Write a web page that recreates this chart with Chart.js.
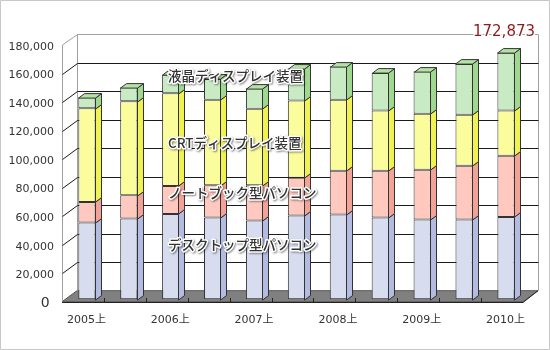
<!DOCTYPE html>
<html>
<head>
<meta charset="utf-8">
<script src="https://cdn.jsdelivr.net/npm/chart.js@4/dist/chart.umd.min.js"></script>
<style>
    body { margin: 0; background: #fff; }
    canvas { display: block; }
</style>
</head>
<body>
<canvas id="chart" width="550" height="350"></canvas>
<script>
//#region Data

const categories = ["2005上", "2005下", "2006上", "2006下", "2007上", "2007下",
    "2008上", "2008下", "2009上", "2009下", "2010上"];
const shownLabels = ["2005上", "2006上", "2007上", "2008上", "2009上", "2010上"];
const seriesNames = ["デスクトップ型パソコン", "ノートブック型パソコン", "CRTディスプレイ装置", "液晶ディスプレイ装置"];

const desktop = [53850, 56650, 59900, 57350, 55250, 58750, 59450, 57350, 55950, 55950, 57750];
const notebook = [14400, 16300, 19550, 22550, 24650, 26550, 30750, 32850, 34950, 37750, 42950];
const crt = [65750, 65950, 65050, 60000, 53700, 54100, 49700, 42200, 39200, 35700, 31700];
const lcd = [7700, 9800, 13000, 14600, 14400, 22400, 23500, 26350, 29800, 35600, 40473];

const yMax = 180000;
const yStep = 20000;

//#endregion

//#region Styles

const FONT = "'DejaVu Sans', 'Noto Sans CJK JP', sans-serif";
const JP_FONT = "'Noto Sans CJK JP', sans-serif";
const faceColors = ["#d7dcef", "#ffc9c0", "#fbfd9c", "#c9ebc4"];
const sideColors = ["#b3bce0", "#f3a297", "#f0f250", "#9fd88f"];
const topColor = "#b2e3a3";
const edge = "#333333";

// offsets used to fake the 3D look
const wall = { dx: 15, dy: -11 };   // back wall depth
const shift = { dx: 4, dy: -2.4 };  // bars stand a bit behind the front edge
const bar3d = { dx: 6, dy: -4.5 };  // depth of each bar

//#endregion

//#region 3D plugin

const box3d = {
    id: "box3d",
    beforeDatasetsDraw(chart) {
        const ctx = chart.ctx;
        const area = chart.chartArea;
        const y = chart.scales.y;
        const x = chart.scales.x;
        const L = area.left, R = area.right, B = area.bottom, T = area.top;

        ctx.save();
        ctx.lineWidth = 1;

        // floor
        ctx.fillStyle = "#808080";
        ctx.beginPath();
        ctx.moveTo(L, B);
        ctx.lineTo(L + wall.dx, B + wall.dy);
        ctx.lineTo(R + wall.dx, B + wall.dy);
        ctx.lineTo(R, B);
        ctx.closePath();
        ctx.fill();
        ctx.strokeStyle = "#555";
        ctx.stroke();

        // back wall frame
        ctx.strokeStyle = "#a0a0a0";
        ctx.beginPath();
        ctx.moveTo(L + wall.dx + 0.5, B + wall.dy);
        ctx.lineTo(L + wall.dx + 0.5, T + wall.dy + 0.5);
        ctx.lineTo(R + wall.dx + 0.5, T + wall.dy + 0.5);
        ctx.lineTo(R + wall.dx + 0.5, B + wall.dy);
        ctx.moveTo(L + 0.5, T);
        ctx.lineTo(L + wall.dx + 0.5, T + wall.dy + 0.5);
        ctx.moveTo(L + 0.5, T);
        ctx.lineTo(L + 0.5, B);
        ctx.stroke();

        // grid lines on the back wall + the slanted ones on the left wall
        ctx.strokeStyle = "#1a1a1a";
        for (let v = yStep; v < yMax; v += yStep) {
            const py = Math.round(y.getPixelForValue(v));
            ctx.beginPath();
            ctx.moveTo(L + 0.5, py + 0.5);
            ctx.lineTo(L + wall.dx + 0.5, py + wall.dy + 0.5);
            ctx.lineTo(R + wall.dx + 0.5, py + wall.dy + 0.5);
            ctx.stroke();
        }

        // front edge of the floor with the little category ticks
        ctx.strokeStyle = "#222";
        ctx.beginPath();
        ctx.moveTo(L, Math.round(B) + 0.5);
        ctx.lineTo(R, Math.round(B) + 0.5);
        ctx.lineTo(R + wall.dx, B + wall.dy);
        const step = (R - L) / categories.length;
        for (let i = 1; i < categories.length; i++) {
            const px = Math.round(L + step * i) + 0.5;
            ctx.moveTo(px, Math.round(B));
            ctx.lineTo(px, Math.round(B) - 4);
        }
        ctx.stroke();
        ctx.restore();

        // bars get drawn shifted back a little
        ctx.save();
        ctx.translate(shift.dx, shift.dy);
    },
    afterDatasetsDraw(chart) {
        const ctx = chart.ctx;
        const last = chart.data.datasets.length - 1;
        ctx.lineWidth = 1;
        ctx.strokeStyle = edge;
        chart.data.datasets.forEach((ds, di) => {
            const meta = chart.getDatasetMeta(di);
            meta.data.forEach((el) => {
                const p = el.getProps(["x", "y", "base", "width"], true);
                const r = Math.round(p.x + p.width / 2) - 0.5;
                const l = Math.round(p.x - p.width / 2) + 0.5;
                const top = Math.round(p.y) + 0.5;
                const bot = Math.round(p.base) + 0.5;
                // side
                ctx.fillStyle = sideColors[di];
                ctx.beginPath();
                ctx.moveTo(r, top);
                ctx.lineTo(r + bar3d.dx, top + bar3d.dy);
                ctx.lineTo(r + bar3d.dx, bot + bar3d.dy);
                ctx.lineTo(r, bot);
                ctx.closePath();
                ctx.fill();
                ctx.stroke();
                // lid only on the top segment
                if (di === last) {
                    ctx.fillStyle = topColor;
                    ctx.beginPath();
                    ctx.moveTo(l, top);
                    ctx.lineTo(l + bar3d.dx, top + bar3d.dy);
                    ctx.lineTo(r + bar3d.dx, top + bar3d.dy);
                    ctx.lineTo(r, top);
                    ctx.closePath();
                    ctx.fill();
                    ctx.stroke();
                }
            });
        });
        ctx.restore();
    },
    afterDraw(chart, args, opts) {
        const ctx = chart.ctx;
        ctx.save();

        // series names written over the bars
        ctx.font = "500 13.5px " + JP_FONT;
        ctx.textBaseline = "middle";
        ctx.lineJoin = "round";
        seriesNames.forEach((name, i) => {
            const ty = opts.labelY[i];
            ctx.shadowColor = "rgba(0,0,0,0.45)";
            ctx.shadowBlur = 2;
            ctx.shadowOffsetX = 1;
            ctx.shadowOffsetY = 1;
            ctx.strokeStyle = "#fff";
            ctx.lineWidth = 3;
            ctx.strokeText(name, opts.labelX, ty);
            ctx.shadowColor = "transparent";
            ctx.fillStyle = "#333";
            ctx.fillText(name, opts.labelX, ty);
        });

        // total of the latest period
        const n = categories.length - 1;
        const total = desktop[n] + notebook[n] + crt[n] + lcd[n];
        ctx.font = "15px " + FONT;
        ctx.textAlign = "center";
        ctx.strokeStyle = "#fff";
        ctx.lineWidth = 3;
        ctx.strokeText(total.toLocaleString("en-US"), 504, 32.5);
        ctx.fillStyle = "#8e1b1b";
        ctx.fillText(total.toLocaleString("en-US"), 504, 32.5);

        // outer frame
        ctx.strokeStyle = "#c8c8c8";
        ctx.lineWidth = 1;
        ctx.strokeRect(0.5, 0.5, chart.width - 1, chart.height - 1);
        ctx.restore();
    }
};

//#endregion

//#region Chart

const values = [desktop, notebook, crt, lcd];
let data = {
    labels: categories,
    datasets: values.map((arr, i) => ({
        label: seriesNames[i],
        data: arr,
        backgroundColor: faceColors[i],
        borderColor: edge,
        borderWidth: 1,
        borderSkipped: false,
        barPercentage: 0.413,
        categoryPercentage: 1
    }))
};

let config = {
    type: "bar",
    data: data,
    plugins: [box3d],
    options: {
        responsive: false,
        animation: false,
        layout: {
            padding: { top: 45, right: 27, left: 0, bottom: 0 }
        },
        scales: {
            x: {
                stacked: true,
                grid: { display: false, drawTicks: false },
                border: { display: false },
                afterFit: (scale) => { scale.height = 48.3; },
                ticks: {
                    autoSkip: false,
                    maxRotation: 0,
                    padding: 11.5,
                    labelOffset: 3.5,
                    color: "#333",
                    font: { family: FONT, size: 11 },
                    callback: function (value, index) {
                        const lbl = categories[index];
                        return shownLabels.includes(lbl) ? lbl : "";
                    }
                }
            },
            y: {
                stacked: true,
                min: 0,
                max: yMax,
                grid: { display: false, drawTicks: false },
                border: { display: false },
                afterFit: (scale) => { scale.width = 62; },
                ticks: {
                    stepSize: yStep,
                    autoSkip: false,
                    padding: 8,
                    labelOffset: 2,
                    color: "#333",
                    font: (c) => ({ family: FONT, size: c.tick && c.tick.value === 0 ? 14 : 11 }),
                    callback: (value) => value === 0 ? "0 " : value.toLocaleString("en-US")
                }
            }
        },
        plugins: {
            legend: { display: false },
            tooltip: { enabled: false },
            box3d: {
                labelX: 168,
                labelY: [245, 192.7, 143, 75.7]
            }
        }
    }
};

const stockChart = new Chart(document.getElementById("chart"), config);

//#endregion
</script>
</body>
</html>
